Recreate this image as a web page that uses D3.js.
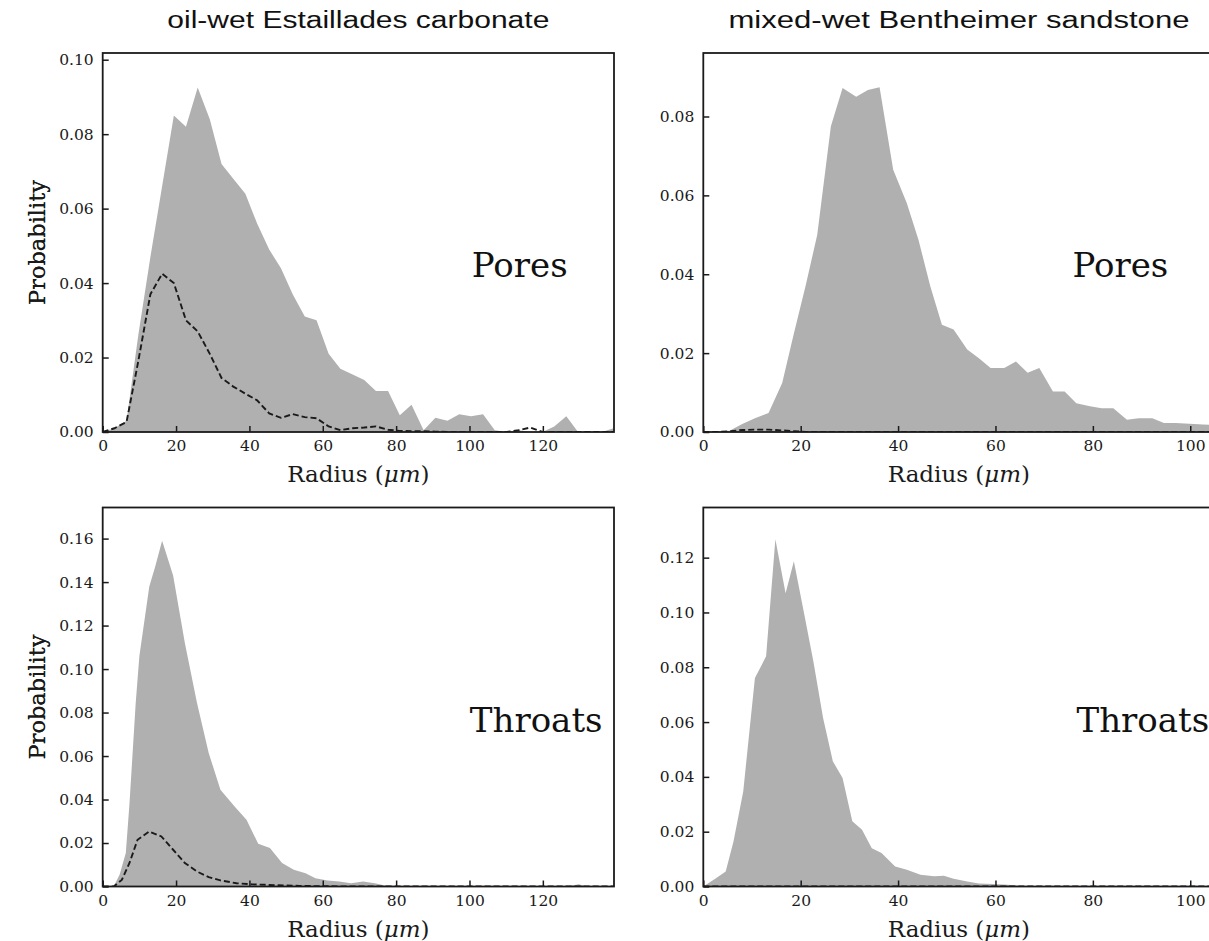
<!DOCTYPE html>
<html>
<head>
<meta charset="utf-8">
<script src="https://cdn.jsdelivr.net/npm/d3@7"></script>
<style>
  body { margin: 0; background: #fff; }
  svg { display: block; }
</style>
</head>
<body>
<svg id="chart" width="1209" height="941"></svg>
<script>
// ---- data ----
// oil-wet Estaillades carbonate, pores
const estPoreR = [0, 3.2, 6.5, 9.7, 13.0, 16.2, 19.4, 22.7, 25.9, 29.2, 32.4, 35.6, 38.9, 42.1, 45.4, 48.6, 51.8, 55.1, 58.3, 61.6, 64.8, 68.0, 71.3, 74.5, 77.8, 81.0, 84.2, 87.5, 90.7, 94.0, 97.2, 100.4, 103.7, 106.9, 110.2, 113.4, 116.6, 119.9, 123.1, 126.4, 129.6, 132.8, 136.1, 139.3];
const estPoreAll = [0, 0.001, 0.003, 0.026, 0.047, 0.066, 0.085, 0.082, 0.0925, 0.084, 0.072, 0.068, 0.064, 0.056, 0.049, 0.044, 0.037, 0.031, 0.030, 0.021, 0.017, 0.0155, 0.014, 0.011, 0.011, 0.0045, 0.0073, 0.0005, 0.0038, 0.003, 0.0048, 0.0042, 0.0048, 0.0005, 0, 0.0005, 0, 0, 0.0015, 0.0042, 0, 0, 0, 0.001];
const estPoreOil = [0, 0.001, 0.0027, 0.019, 0.037, 0.0425, 0.040, 0.030, 0.027, 0.021, 0.0145, 0.0122, 0.0103, 0.0085, 0.005, 0.0038, 0.0048, 0.004, 0.0037, 0.0015, 0.0005, 0.001, 0.0012, 0.0015, 0.0006, 0.0003, 0.0002, 0.0002, 0.0001, 0, 0, 0, 0, 0, 0, 0.0005, 0.0012, 0, 0, 0, 0, 0, 0, 0];

// mixed-wet Bentheimer sandstone, pores
const bentPoreR = [0, 2.6, 5.4, 8.0, 10.6, 13.4, 16.2, 18.6, 21.0, 23.4, 26.2, 28.6, 31.4, 33.8, 36.2, 39.0, 41.8, 44.2, 46.6, 49.0, 51.4, 54.2, 56.6, 59.0, 61.8, 64.2, 66.6, 69.0, 71.8, 74.2, 76.6, 79.4, 81.8, 84.2, 87.0, 89.4, 92.2, 94.6, 97.0, 99.8, 102.6, 105.4];
const bentPoreAll = [0, 0, 0.0003, 0.002, 0.0035, 0.0048, 0.0124, 0.025, 0.037, 0.050, 0.0775, 0.0872, 0.085, 0.0867, 0.0874, 0.0665, 0.058, 0.0487, 0.037, 0.0272, 0.026, 0.0209, 0.0187, 0.0162, 0.0162, 0.0179, 0.015, 0.0162, 0.0103, 0.0103, 0.0073, 0.0065, 0.006, 0.006, 0.0031, 0.0035, 0.0035, 0.0023, 0.0023, 0.0021, 0.0019, 0.0018];
const bentPoreOil = [0, 0, 0.0002, 0.0005, 0.0006, 0.0006, 0.0004, 0.0002, 0, 0, 0, 0, 0, 0, 0, 0, 0, 0, 0, 0, 0, 0, 0, 0, 0, 0, 0, 0, 0, 0, 0, 0, 0, 0, 0, 0, 0, 0, 0, 0, 0, 0];

// oil-wet Estaillades carbonate, throats
const estThrR = [0, 3.0, 4.6, 6.3, 7.3, 9.0, 10.0, 12.7, 14.3, 16.2, 19.2, 22.4, 25.7, 28.9, 32.1, 35.9, 39.2, 42.4, 45.6, 48.9, 52.1, 55.3, 58.0, 61.3, 64.5, 67.7, 71.0, 74.2, 76.9, 80.0, 90.0, 100.0, 110.0, 120.0, 127.0, 129.8, 132.0, 139.4];
const estThrAll = [0, 0, 0.0054, 0.0154, 0.038, 0.0845, 0.106, 0.138, 0.147, 0.159, 0.143, 0.112, 0.0845, 0.0614, 0.0445, 0.0369, 0.0307, 0.0197, 0.0177, 0.0108, 0.0077, 0.0061, 0.0038, 0.0028, 0.0023, 0.0015, 0.0023, 0.0015, 0.0005, 0.0002, 0.0002, 0.0001, 0.0001, 0.0001, 0.0001, 0.001, 0, 0];
const estThrOilR = [0, 3.0, 5.2, 7.3, 9.5, 12.7, 16.0, 19.2, 22.4, 25.7, 28.9, 32.1, 36.5, 40.8, 47.2, 53.7, 60.0, 80.0, 100.0, 139.4];
const estThrOil = [0, 0, 0.003, 0.0108, 0.0215, 0.0253, 0.023, 0.0169, 0.0108, 0.0069, 0.0043, 0.0028, 0.0015, 0.001, 0.0006, 0.0003, 0.0001, 0, 0, 0];

// mixed-wet Bentheimer sandstone, throats
const bentThrR = [0, 2.6, 4.6, 6.2, 8.2, 10.6, 12.9, 14.8, 16.9, 18.6, 20.6, 22.6, 24.6, 26.6, 28.6, 30.6, 32.6, 34.6, 36.6, 39.4, 41.8, 44.6, 47.4, 49.4, 51.4, 54.2, 56.6, 59.4, 62.6, 65.0, 80.0, 105.4];
const bentThrAll = [0, 0.003, 0.0055, 0.0164, 0.0347, 0.0761, 0.084, 0.1267, 0.107, 0.1187, 0.1005, 0.0822, 0.0615, 0.0457, 0.0396, 0.0238, 0.0207, 0.014, 0.0122, 0.0073, 0.0061, 0.0043, 0.0037, 0.0039, 0.0028, 0.0018, 0.0011, 0.0009, 0.0006, 0.0002, 0, 0];
const bentThrOilR = [0, 105.4];
const bentThrOil = [0, 0];

// ticks
const xTicksEst = [0, 20, 40, 60, 80, 100, 120];
const xTicksBent = [0, 20, 40, 60, 80, 100];
const yTicksEstPore = [0, 0.02, 0.04, 0.06, 0.08, 0.10];
const yTicksBentPore = [0, 0.02, 0.04, 0.06, 0.08];
const yTicksEstThr = [0, 0.02, 0.04, 0.06, 0.08, 0.10, 0.12, 0.14, 0.16];
const yTicksBentThr = [0, 0.02, 0.04, 0.06, 0.08, 0.10, 0.12];

const titles = ['oil-wet Estaillades carbonate', 'mixed-wet Bentheimer sandstone'];

// ---- layout ----
const svg = d3.select('#chart');
const FILL = '#b0b0b0';
const INK = '#1a1a1a';
const SERIF = '"DejaVu Serif", serif';
const pw = 511.3, ph = 379;

const panels = [
  { left: 102.7, top: 53, name: 'Pores', r: estPoreR, all: estPoreAll, oilR: estPoreR, oil: estPoreOil, xMax: 139.4, yMax: 0.1018, xt: xTicksEst, yt: yTicksEstPore, lx: 0.722, ly: 0.59 },
  { left: 703.3, top: 53, name: 'Pores', r: bentPoreR, all: bentPoreAll, oilR: bentPoreR, oil: bentPoreOil, xMax: 105, yMax: 0.0961, xt: xTicksBent, yt: yTicksBentPore, lx: 0.722, ly: 0.59 },
  { left: 102.7, top: 507.5, name: 'Throats', r: estThrR, all: estThrAll, oilR: estThrOilR, oil: estThrOil, xMax: 139.4, yMax: 0.1743, xt: xTicksEst, yt: yTicksEstThr, lx: 0.718, ly: 0.593 },
  { left: 703.3, top: 507.5, name: 'Throats', r: bentThrR, all: bentThrAll, oilR: bentThrOilR, oil: bentThrOil, xMax: 105, yMax: 0.1383, xt: xTicksBent, yt: yTicksBentThr, lx: 0.73, ly: 0.593 }
];

// column titles
const titleWidth = [382, 461];
svg.selectAll('.col-title').data(titles).join('text')
  .attr('class', 'col-title')
  .attr('x', (d, i) => panels[i].left + pw / 2)
  .attr('y', 28)
  .attr('text-anchor', 'middle')
  .attr('font-family', '"Liberation Sans", Arial, sans-serif')
  .attr('font-size', '23px')
  .attr('fill', '#111')
  .attr('textLength', (d, i) => titleWidth[i])
  .attr('lengthAdjust', 'spacingAndGlyphs')
  .text(d => d);

panels.forEach((p, i) => {
  const g = svg.append('g').attr('transform', `translate(${p.left},${p.top})`);
  const x = d3.scaleLinear().domain([0, p.xMax]).range([0, pw]);
  const y = d3.scaleLinear().domain([0, p.yMax]).range([ph, 0]);

  const clipId = 'clip' + i;
  g.append('clipPath').attr('id', clipId)
    .append('rect').attr('width', pw).attr('height', ph);

  const pts = p.r.map((r, k) => [r, p.all[k]]);
  const oilPts = p.oilR.map((r, k) => [r, p.oil[k]]);

  // all pores/throats: filled grey
  g.append('path')
    .datum(pts)
    .attr('clip-path', `url(#${clipId})`)
    .attr('fill', FILL)
    .attr('d', d3.area().x(d => x(d[0])).y0(y(0)).y1(d => y(d[1])));

  // oil-filled: dashed
  g.append('path')
    .datum(oilPts)
    .attr('clip-path', `url(#${clipId})`)
    .attr('fill', 'none')
    .attr('stroke', INK)
    .attr('stroke-width', 1.9)
    .attr('stroke-dasharray', '6,3')
    .attr('d', d3.line().x(d => x(d[0])).y(d => y(d[1])));

  // axes (ticks inside)
  g.append('g').attr('transform', `translate(0,${ph})`)
    .call(d3.axisBottom(x).tickValues(p.xt).tickFormat(d3.format('d')).tickSize(-6).tickSizeOuter(0).tickPadding(8))
    .call(a => a.select('.domain').remove())
    .call(a => a.selectAll('.tick line').attr('stroke', INK).attr('stroke-width', 1.5))
    .call(a => a.selectAll('.tick text').attr('fill', INK).attr('font-family', SERIF).attr('font-size', '15.5px'));

  g.append('g')
    .call(d3.axisLeft(y).tickValues(p.yt).tickFormat(d3.format('.2f')).tickSize(-6).tickSizeOuter(0).tickPadding(9))
    .call(a => a.select('.domain').remove())
    .call(a => a.selectAll('.tick line').attr('stroke', INK).attr('stroke-width', 1.5))
    .call(a => a.selectAll('.tick text').attr('fill', INK).attr('font-family', SERIF).attr('font-size', '15.5px'));

  // frame
  g.append('rect')
    .attr('width', pw).attr('height', ph)
    .attr('fill', 'none').attr('stroke', INK).attr('stroke-width', 1.8);

  // axis labels
  const xl = g.append('text')
    .attr('x', pw / 2).attr('y', ph + 50)
    .attr('text-anchor', 'middle')
    .attr('font-family', SERIF).attr('font-size', '23px').attr('fill', INK);
  xl.append('tspan').text('Radius (');
  xl.append('tspan').attr('font-style', 'italic').text('μm');
  xl.append('tspan').text(')');

  g.append('text')
    .attr('transform', `translate(${45 - p.left},${ph / 2}) rotate(-90)`)
    .attr('text-anchor', 'middle')
    .attr('font-family', SERIF).attr('font-size', '22.5px').attr('fill', INK)
    .text('Probability');

  // panel label
  g.append('text')
    .attr('x', pw * p.lx).attr('y', ph * p.ly)
    .attr('font-family', SERIF).attr('font-size', '34px').attr('fill', '#111')
    .text(p.name);
});
</script>
</body>
</html>
